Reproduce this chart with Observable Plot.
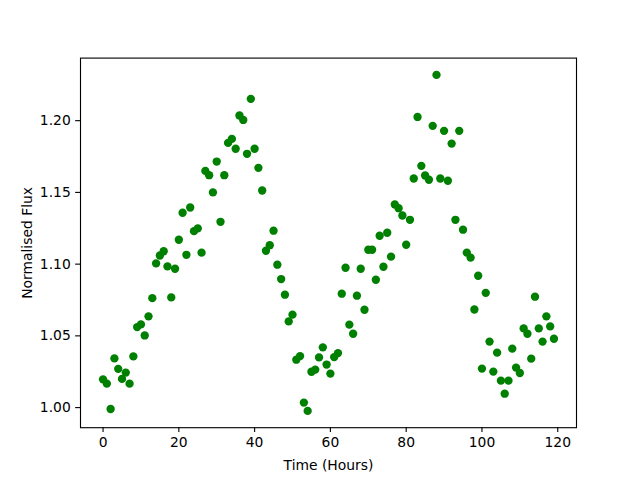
<!DOCTYPE html>
<html>
<head>
<meta charset="utf-8">
<script src="https://cdn.jsdelivr.net/npm/d3@7"></script>
<script src="https://cdn.jsdelivr.net/npm/@observablehq/plot@0.6"></script>
<style>
  html, body { margin: 0; padding: 0; background: white; }
</style>
</head>
<body>
<div id="chart"></div>
<script>
const hours = d3.range(0, 120);
const flux = [
  1.0197, 1.0167, 0.9990, 1.0343, 1.0270, 1.0200, 1.0244, 1.0167, 1.0357, 1.0561,
  1.0580, 1.0503, 1.0636, 1.0763, 1.1005, 1.1060, 1.1090, 1.0984, 1.0768, 1.0968,
  1.1170, 1.1358, 1.1065, 1.1395, 1.1230, 1.1249, 1.1080, 1.1650, 1.1620, 1.1500,
  1.1715, 1.1295, 1.1620, 1.1845, 1.1873, 1.1804, 1.2036, 1.2005, 1.1769, 1.2152,
  1.1804, 1.1671, 1.1513, 1.1093, 1.1132, 1.1233, 1.0996, 1.0896, 1.0787, 1.0601,
  1.0648, 1.0334, 1.0359, 1.0035, 0.9977, 1.0250, 1.0265, 1.0350, 1.0420, 1.0300,
  1.0237, 1.0352, 1.0380, 1.0794, 1.0975, 1.0578, 1.0515, 1.0780, 1.0968, 1.0682,
  1.1100, 1.1100, 1.0891, 1.1198, 1.0982, 1.1219, 1.1052, 1.1416, 1.1390, 1.1339,
  1.1135, 1.1309, 1.1597, 1.2026, 1.1685, 1.1618, 1.1588, 1.1964, 1.2319, 1.1597,
  1.1929, 1.1581, 1.1840, 1.1309, 1.1929, 1.1240, 1.1080, 1.1045, 1.0684, 1.0919,
  1.0272, 1.0800, 1.0460, 1.0251, 1.0383, 1.0188, 1.0097, 1.0188, 1.0411, 1.0279,
  1.0241, 1.0552, 1.0515, 1.0341, 1.0773, 1.0552, 1.0460, 1.0636, 1.0566, 1.0480
];
const xTicks = [0, 20, 40, 60, 80, 100, 120];
const yTicks = [1.00, 1.05, 1.10, 1.15, 1.20];

const data = hours.map((h, i) => ({time: h, flux: flux[i]}));

function padded(values) {
  const [lo, hi] = d3.extent(values);
  const m = (hi - lo) * 0.05;
  return [lo - m, hi + m];
}

const px = 100 / 72;
const chart = Plot.plot({
  width: 640,
  height: 480,
  marginLeft: 80,
  marginRight: 64,
  marginTop: 57.6,
  marginBottom: 52.8,
  style: {fontFamily: "DejaVu Sans", fontSize: (10 * px) + "px", background: "white", color: "black"},
  x: {domain: padded(hours)},
  y: {domain: padded(flux)},
  marks: [
    Plot.frame({stroke: "black", strokeWidth: 0.8 * px}),
    Plot.axisX(xTicks, {tickSize: 3.5 * px, tickPadding: 3.5 * px, strokeWidth: 0.8 * px,
      label: "Time (Hours)", labelAnchor: "center", labelArrow: "none", labelOffset: 42}),
    Plot.axisY(yTicks, {tickSize: 3.5 * px, tickPadding: 3.5 * px, strokeWidth: 0.8 * px,
      tickFormat: d3.format(".2f"),
      label: "Normalised Flux", labelAnchor: "center", labelArrow: "none", labelOffset: 58}),
    Plot.dot(data, {x: "time", y: "flux", r: 3 * px, fill: "green", stroke: "none"})
  ]
});
document.getElementById("chart").appendChild(chart);
</script>
</body>
</html>
